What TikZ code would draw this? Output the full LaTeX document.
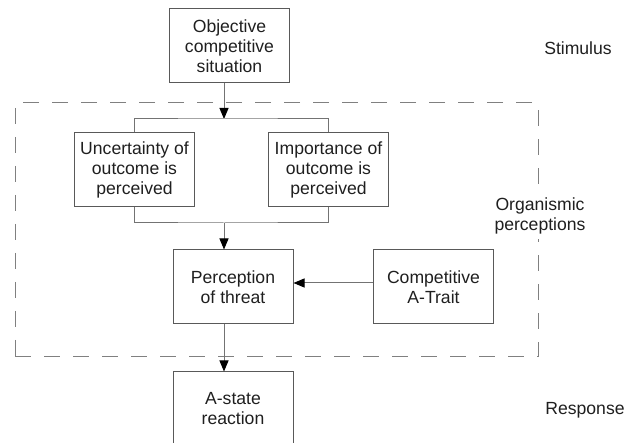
\documentclass[tikz,border=0pt]{standalone}
\usepackage{fontspec}
\setmainfont{Liberation Sans}
\usetikzlibrary{arrows.meta}
\begin{document}
\begin{tikzpicture}[x=1pt,y=-1pt,
  every node/.style={font=\fontsize{17.6}{20}\selectfont, text=black!88},
  box/.style={draw=black!65, line width=1pt, minimum width=120pt,
    minimum height=74pt, align=center, inner sep=0pt},
  link/.style={draw=black!55, line width=1pt},
  arr/.style={link, -{Triangle[width=9pt,length=11pt,color=black]}},
  frame/.style={draw=black!50, line width=1pt, dash pattern=on 16pt off 13pt,
    minimum width=523pt, minimum height=254pt, inner sep=0pt},
  tag/.style={align=center, inner sep=0pt}]
  \clip (0,0) rectangle (635,443);

  % organismic frame
  \node[frame] (org) at (276.5,230) {};

  % boxes
  \node[box] (top)   at (229.5,46)  {Objective\\competitive\\situation};
  \node[box] (unc)   at (134.5,170) {Uncertainty of\\outcome is\\perceived};
  \node[box] (imp)   at (328.5,170) {Importance of\\outcome is\\perceived};
  \node[box] (per)   at (233,287)   {Perception\\of threat};
  \node[box] (trait) at (433.5,287) {Competitive\\A-Trait};
  \node[box] (ast)   at (233,409)   {A-state\\reaction};

  % side labels
  \node[tag] (stim) at (578,48) {Stimulus};
  \node[tag, fill=white, inner sep=5pt] (orgl) at (540,216) {Organismic\\perceptions};
  \node[tag] (resp) at (585,410) {Response};

  % connectors
  \coordinate (jt) at (224,119);
  \coordinate (jb) at (224,223);
  \coordinate (hy) at (0,283);
  \draw[arr] (top.south -| jt) -- (jt);
  \draw[link] (unc.north) |- (jt) -| (imp.north);
  \draw[link] (unc.south) |- (jb) -| (imp.south);
  \draw[arr] (jb) -- (per.north -| jb);
  \draw[arr] (trait.west |- hy) -- (per.east |- hy);
  \draw[arr] (per.south -| jb) -- (ast.north -| jb);
\end{tikzpicture}
\end{document}
